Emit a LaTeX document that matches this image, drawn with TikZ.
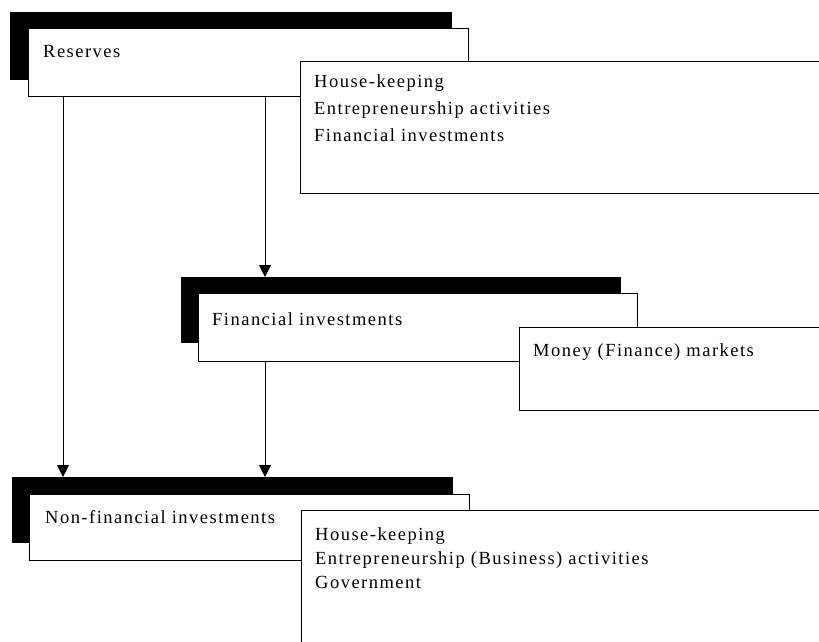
\documentclass[tikz,border=0pt]{standalone}
\usepackage{fontspec}
\setmainfont{Liberation Serif}[LetterSpace=8]
\usetikzlibrary{calc,arrows.meta}
\begin{document}
\begin{tikzpicture}[x=1pt,y=-1pt,
  shadebox/.style={fill=black,draw=none,inner sep=0pt,anchor=north west},
  frontbox/.style={fill=white,draw=black,line width=1.1pt,inner sep=0pt,anchor=north west},
  listbox/.style={fill=white,draw=black,line width=1.2pt,inner sep=0pt,anchor=north west},
  lbl/.style={inner sep=0pt,anchor=base west,align=left,font=\fontsize{18.5}{26}\selectfont},
  arr/.style={draw=black,line width=1pt,-{Triangle[width=12pt,length=12pt]}}]
\useasboundingbox (0,0) rectangle (819,642);
\clip (0,0) rectangle (819,642);

% Reserves and where they go (multi-line labels sit on their last baseline)
\node[shadebox,minimum width=442,minimum height=68] (ress) at (10,12) {};
\node[frontbox,minimum width=440,minimum height=68] (res) at (28,28) {};
\node[lbl] (restxt) at ($(res.north west)+(15,30)$) {Reserves};
\node[listbox,minimum width=540,minimum height=132] (use) at (300,61) {};
\node[lbl,font=\fontsize{18.5}{27}\selectfont] (usetxt) at ($(use.north west)+(14,80)$)
  {House-keeping\\Entrepreneurship activities\\Financial investments};

% Financial investments
\node[shadebox,minimum width=440,minimum height=66] (fins) at (181,277) {};
\node[frontbox,minimum width=439,minimum height=68] (fin) at (198,293) {};
\node[lbl] (fintxt) at ($(fin.north west)+(14,32)$) {Financial investments};
\node[listbox,minimum width=320,minimum height=83] (mkt) at (519,327) {};
\node[lbl] (mkttxt) at ($(mkt.north west)+(14,29)$) {Money (Finance) markets};

% Non-financial investments
\node[shadebox,minimum width=441,minimum height=66] (nfs) at (12,477) {};
\node[frontbox,minimum width=440,minimum height=66] (nf) at (29,494) {};
\node[lbl] (nftxt) at ($(nf.north west)+(16,29)$) {Non-financial investments};
\node[listbox,minimum width=540,minimum height=160] (sec) at (301,510) {};
\node[lbl,font=\fontsize{18.5}{24}\selectfont] (sectxt) at ($(sec.north west)+(14,78)$)
  {House-keeping\\Entrepreneurship (Business) activities\\Government};

% flows
\draw[arr] ($(res.south west)+(35,0)$) -- ($(nfs.north west)+(51,0)$);
\draw[arr] ($(res.south west)+(237,0)$) -- ($(fins.north west)+(84,0)$);
\draw[arr] ($(fin.south west)+(67,0)$) -- ($(nfs.north west)+(253,0)$);
\end{tikzpicture}
\end{document}
